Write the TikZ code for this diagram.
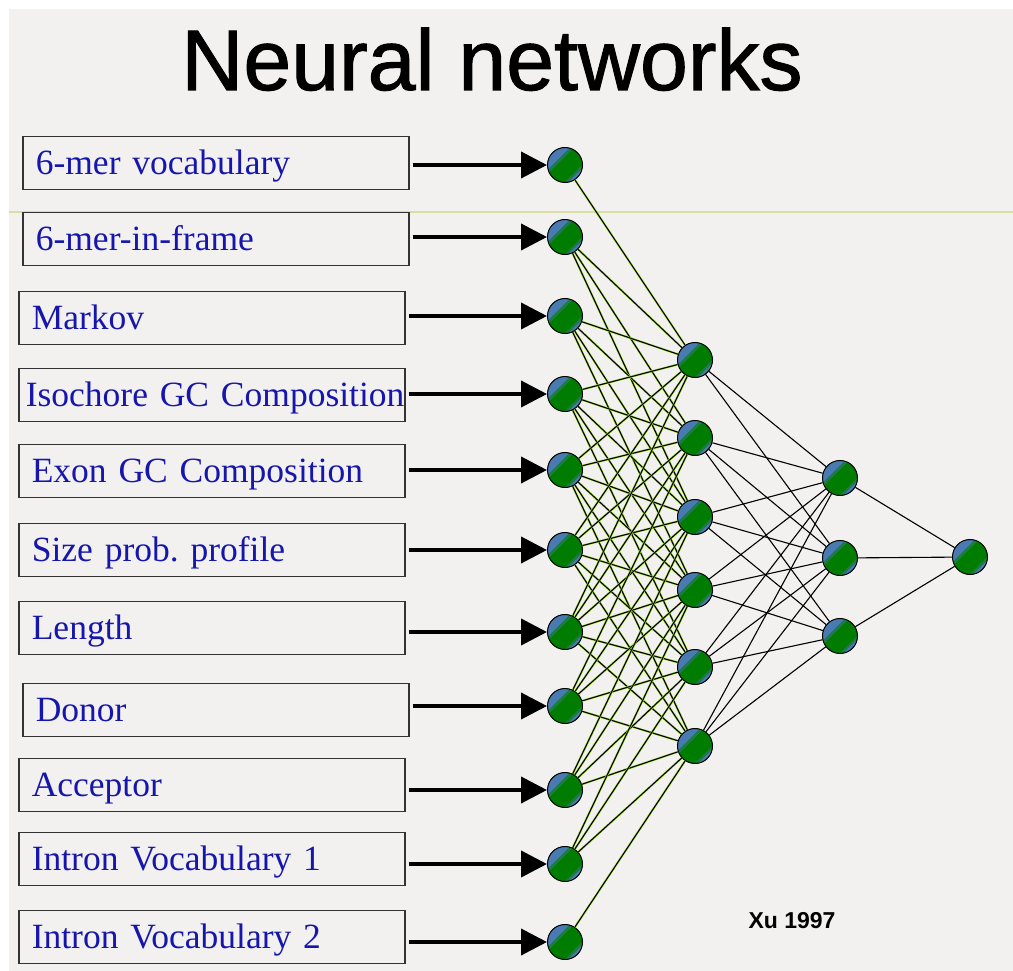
\documentclass[tikz,border=0pt]{standalone}
\usepackage{fontspec}
\setmainfont{Liberation Serif}
\newfontfamily\headfont{Liberation Sans}
\newfontfamily\titlefont[FakeBold=1.2]{Liberation Sans}
\usepackage{tikz}
\usetikzlibrary{arrows.meta}
\frenchspacing

\definecolor{slidebg}{RGB}{242,241,240}
\definecolor{rulegold}{RGB}{218,222,160}
\definecolor{featblue}{RGB}{22,22,172}
\definecolor{nblue}{RGB}{74,122,178}
\definecolor{ngreen}{RGB}{0,124,0}
\definecolor{wiregreen}{RGB}{168,224,60}

\tikzstyle{feature} = [rectangle, draw=black!80, line width=1.6pt, anchor=west, minimum height=53pt, text width=360pt, text height=29pt, text depth=6pt, inner xsep=13pt, align=left, text=featblue, font=\fontsize{35.5}{40}\selectfont]
\tikzstyle{neuron} = [circle, draw, line width=1pt, minimum size=35pt, inner sep=0pt, fill=ngreen,
    path picture={\begin{scope}[x=1pt, y=1pt, shift={(path picture bounding box.center)}]
        \fill [nblue!40!ngreen] (-21.2,-12.7) -- (12.7,21.2) -- (0,33.9) -- (-33.9,0) -- cycle;
        \fill [nblue] (-23.3,-10.6) -- (10.6,23.3) -- (0,33.9) -- (-33.9,0) -- cycle;
        \fill [nblue!40!ngreen] (-8.5,-25.5) -- (25.5,8.5) -- (33.9,0) -- (0,-33.9) -- cycle;
        \fill [nblue] (-6.7,-27.2) -- (27.2,6.7) -- (33.9,0) -- (0,-33.9) -- cycle;
    \end{scope}}]
\tikzstyle{feed} = [draw, line width=4pt, shorten <=3pt, -{Triangle[length=26pt,width=26pt]}]
\tikzstyle{wire} = [draw=wiregreen, line width=0.5pt, double=black, double distance=1.1pt]
\tikzstyle{link} = [draw, line width=1.1pt]

\begin{document}
\begin{tikzpicture}[x=1pt, y=-1pt]
            \useasboundingbox (0,0) rectangle (1013,971);
            \fill [white] (0,0) rectangle (1013,971);
            \fill [slidebg] (9,9) rectangle (1013,971);
            \draw [rulegold, line width=2pt] (9,212) -- (1013,212);
            % Title
            \node [anchor=base, font=\titlefont\fontsize{86}{90}\selectfont] (title) at (492,90) {Neural networks};
            % Place feature boxes
            \node [feature] (f1) at (22,163) {6-mer vocabulary};
            \node [feature] (f2) at (22,239) {6-mer-in-frame};
            \node [feature] (f3) at (18,318) {Markov};
            \node [feature, text width=372pt, inner xsep=7pt] (f4) at (18,395) {\mbox{Isochore GC Composition}};
            \node [feature] (f5) at (18,471) {Exon GC Composition};
            \node [feature] (f6) at (18,550) {Size prob. profile};
            \node [feature] (f7) at (18,628) {Length};
            \node [feature] (f8) at (22,710) {Donor};
            \node [feature] (f9) at (18,785) {Acceptor};
            \node [feature] (f10) at (18,859) {Intron Vocabulary 1};
            \node [feature] (f11) at (18,937) {Intron Vocabulary 2};
            % Place input neurons
            \node [neuron] (i1) at (565,165) {};
            \node [neuron] (i2) at (565,237) {};
            \node [neuron] (i3) at (565,316) {};
            \node [neuron] (i4) at (565,394) {};
            \node [neuron] (i5) at (565,470) {};
            \node [neuron] (i6) at (565,550) {};
            \node [neuron] (i7) at (565,632) {};
            \node [neuron] (i8) at (565,706) {};
            \node [neuron] (i9) at (565,790) {};
            \node [neuron] (i10) at (565,864) {};
            \node [neuron] (i11) at (565,942) {};
            % Place hidden and output neurons
            \node [neuron] (h1) at (695,360) {};
            \node [neuron] (h2) at (695,438) {};
            \node [neuron] (h3) at (695,517) {};
            \node [neuron] (h4) at (695,590) {};
            \node [neuron] (h5) at (695,667) {};
            \node [neuron] (h6) at (695,746) {};
            \node [neuron] (k1) at (840,478) {};
            \node [neuron] (k2) at (840,558) {};
            \node [neuron] (k3) at (840,636) {};
            \node [neuron] (o) at (970,557) {};
            \node [font=\headfont\bfseries\fontsize{23}{26}\selectfont, anchor=base] (cite) at (792,928) {Xu 1997};
            % Draw feeds
            \foreach \n in {1,...,11} \path [feed] (f\n.east |- i\n) -- (i\n);
            % Draw edges
            \foreach \t in {1} \path [wire] (i1) -- (h\t);
            \foreach \t in {1,2,3} \path [wire] (i2) -- (h\t);
            \foreach \t in {1,2,3,4} \path [wire] (i3) -- (h\t);
            \foreach \t in {1,...,5} \path [wire] (i4) -- (h\t);
            \foreach \t in {1,...,6} \path [wire] (i5) -- (h\t);
            \foreach \t in {1,...,6} \path [wire] (i6) -- (h\t);
            \foreach \t in {1,...,6} \path [wire] (i7) -- (h\t);
            \foreach \t in {2,...,6} \path [wire] (i8) -- (h\t);
            \foreach \t in {3,...,6} \path [wire] (i9) -- (h\t);
            \foreach \t in {4,5,6} \path [wire] (i10) -- (h\t);
            \foreach \t in {6} \path [wire] (i11) -- (h\t);
            \foreach \t in {1,2} \path [link] (h1) -- (k\t);
            \foreach \s in {2,...,6} \foreach \t in {1,2,3} \path [link] (h\s) -- (k\t);
            \foreach \t in {1,2,3} \path [link] (k\t) -- (o);
\end{tikzpicture}
\end{document}
